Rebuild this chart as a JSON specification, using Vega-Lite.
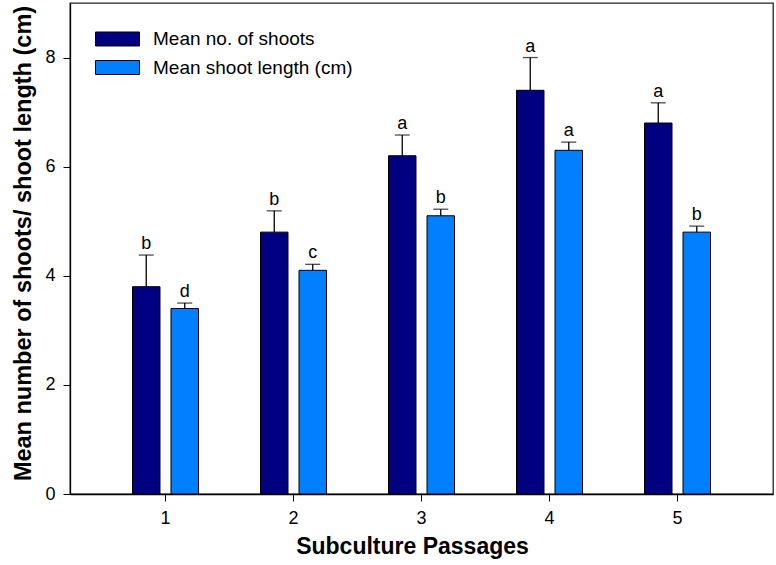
{
  "$schema": "https://vega.github.io/schema/vega-lite/v6.json",
  "width": 703,
  "height": 491,
  "autosize": {"type": "none"},
  "padding": {"left": 70, "top": 3, "right": 3, "bottom": 71},
  "background": "white",
  "config": {
    "font": "Liberation Sans",
    "view": {"stroke": "#222", "strokeWidth": 1.3},
    "axis": {"domainColor": "black", "tickColor": "black", "labelColor": "black", "titleColor": "black", "grid": false, "labelFont": "Liberation Sans", "titleFont": "Liberation Sans"}
  },
  "data": {
    "values": [
      {"passage": "1", "series": "Mean no. of shoots", "mean": 3.8, "upper": 4.38, "letter": "b"},
      {"passage": "1", "series": "Mean shoot length (cm)", "mean": 3.4, "upper": 3.5, "letter": "d"},
      {"passage": "2", "series": "Mean no. of shoots", "mean": 4.8, "upper": 5.19, "letter": "b"},
      {"passage": "2", "series": "Mean shoot length (cm)", "mean": 4.1, "upper": 4.21, "letter": "c"},
      {"passage": "3", "series": "Mean no. of shoots", "mean": 6.2, "upper": 6.58, "letter": "a"},
      {"passage": "3", "series": "Mean shoot length (cm)", "mean": 5.1, "upper": 5.22, "letter": "b"},
      {"passage": "4", "series": "Mean no. of shoots", "mean": 7.4, "upper": 8.0, "letter": "a"},
      {"passage": "4", "series": "Mean shoot length (cm)", "mean": 6.3, "upper": 6.45, "letter": "a"},
      {"passage": "5", "series": "Mean no. of shoots", "mean": 6.8, "upper": 7.17, "letter": "a"},
      {"passage": "5", "series": "Mean shoot length (cm)", "mean": 4.8, "upper": 4.91, "letter": "b"}
    ]
  },
  "encoding": {
    "x": {
      "field": "passage", "type": "nominal",
      "scale": {"paddingInner": 0, "paddingOuter": 0.246},
      "axis": {"title": "Subculture Passages", "labelAngle": 0, "labelFontSize": 18, "titleFontSize": 23, "titleFontWeight": "bold", "tickSize": 7, "labelPadding": 8, "titlePadding": 8, "titleX": 342, "domainWidth": 1.3}
    },
    "xOffset": {"field": "series", "type": "nominal", "scale": {"paddingInner": 0.286, "paddingOuter": 0.805}}
  },
  "layer": [
    {
      "mark": {"type": "bar", "stroke": "black", "strokeWidth": 1, "opacity": 1},
      "encoding": {
        "y": {
          "field": "mean", "type": "quantitative",
          "scale": {"domain": [0, 9], "nice": false},
          "axis": {"title": "Mean number of shoots/ shoot length (cm)", "values": [0, 2, 4, 6, 8], "format": "d", "labelFontSize": 18, "titleFontSize": 23.5, "titleFontWeight": "bold", "tickSize": 7, "labelPadding": 8, "titlePadding": 9, "titleY": 240, "domainWidth": 1.3}
        },
        "color": {
          "field": "series", "type": "nominal",
          "scale": {"range": ["#000080", "#0080ff"]},
          "legend": {
            "title": null, "orient": "none", "legendX": 25, "legendY": 28,
            "symbolType": "M-1,-0.318H1V0.318H-1Z", "symbolSize": 1936,
            "symbolStrokeColor": "black", "symbolStrokeWidth": 1, "symbolOpacity": 1,
            "labelFontSize": 19, "labelColor": "black", "labelOffset": 13, "labelLimit": 400,
            "clipHeight": 16, "rowPadding": 9.5, "padding": 0
          }
        }
      }
    },
    {
      "mark": {"type": "rule", "color": "black", "strokeWidth": 1.3},
      "encoding": {
        "y": {"field": "mean", "type": "quantitative"},
        "y2": {"field": "upper"}
      }
    },
    {
      "mark": {"type": "tick", "color": "black", "thickness": 1.3, "size": 15},
      "encoding": {
        "y": {"field": "upper", "type": "quantitative"}
      }
    },
    {
      "mark": {"type": "text", "baseline": "alphabetic", "dy": -6, "fontSize": 18, "color": "black"},
      "encoding": {
        "y": {"field": "upper", "type": "quantitative"},
        "text": {"field": "letter"}
      }
    }
  ]
}
